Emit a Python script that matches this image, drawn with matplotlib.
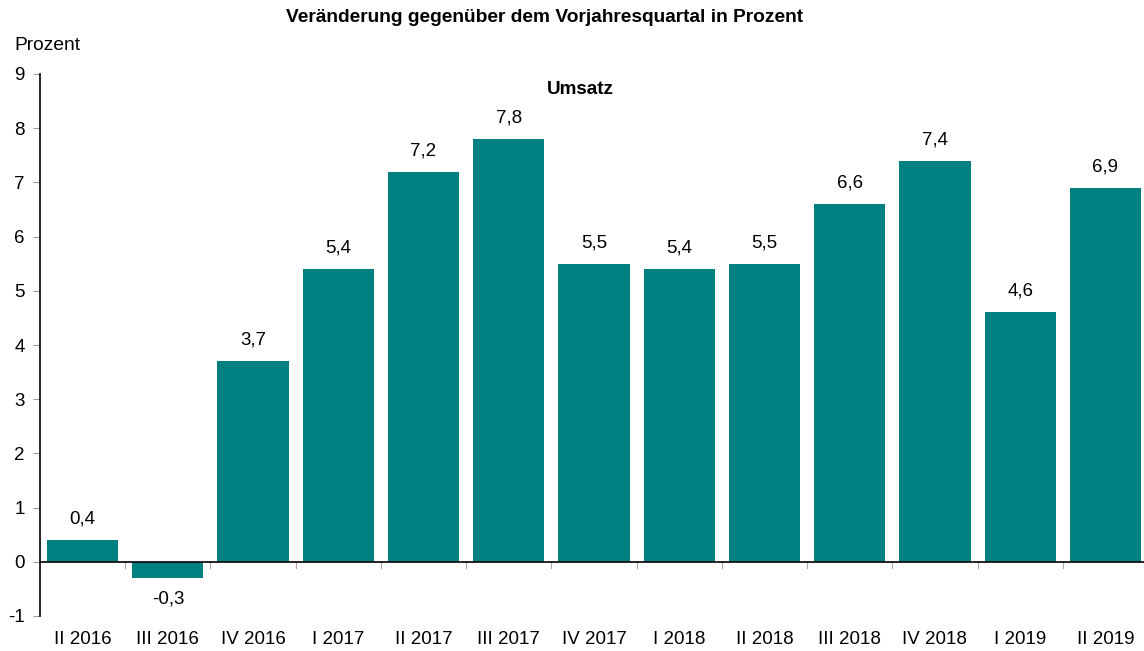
import matplotlib
matplotlib.use("Agg")
import matplotlib.pyplot as plt

quartale = ["II 2016", "III 2016", "IV 2016", "I 2017", "II 2017", "III 2017", "IV 2017",
            "I 2018", "II 2018", "III 2018", "IV 2018", "I 2019", "II 2019"]
umsatz = [0.4, -0.3, 3.7, 5.4, 7.2, 7.8, 5.5, 5.4, 5.5, 6.6, 7.4, 4.6, 6.9]
y_ticks = list(range(-1, 10))

plt.rcParams['font.family'] = ['Liberation Sans', 'DejaVu Sans']

fig = plt.figure(figsize=(11.44, 6.51), dpi=100)
ax = fig.add_axes([40 / 1144, 1 - 616 / 651, 1108 / 1144, 542 / 651])

farbe = "#008080"
fs = 13.5
x = list(range(len(quartale)))
ax.bar(x, umsatz, width=0.835, color=farbe, zorder=2)

for xi, v in zip(x, umsatz):
    txt = f"{v:.1f}".replace(".", ",")
    if v >= 0:
        ax.annotate(txt, (xi, v), xytext=(0, 9), textcoords="offset points",
                    ha="center", va="bottom", fontsize=fs)
    else:
        ax.annotate(txt, (xi, v), xytext=(0, -9), textcoords="offset points",
                    ha="center", va="top", fontsize=fs)

ax.set_xlim(-0.5, 12.5)
ax.set_ylim(-1, 9)
ax.set_yticks(y_ticks)
ax.set_yticklabels([str(t) for t in y_ticks], fontsize=fs)
ax.tick_params(axis="y", length=5, color="#999999", width=0.8, pad=6)

# Null-Linie und Kategorie-Ticks
ax.axhline(0, color="black", linewidth=1.2, zorder=3)
for b in range(1, len(quartale)):
    ax.plot([b - 0.5, b - 0.5], [0, -0.12], color="#aaaaaa", linewidth=0.8,
            clip_on=False, zorder=1)
ax.set_xticks(x)
ax.set_xticklabels(quartale, fontsize=fs)
ax.tick_params(axis="x", length=0, pad=11)

for s in ["top", "right", "bottom"]:
    ax.spines[s].set_visible(False)
ax.spines["left"].set_linewidth(1.2)

fig.text(545 / 1144, 1 - 18 / 651, "Veränderung gegenüber dem Vorjahresquartal in Prozent",
         ha="center", va="center", fontsize=13.8, fontweight="bold")
fig.text(14 / 1144, 1 - 46 / 651, "Prozent", ha="left", va="center", fontsize=fs + 0.3)
ax.text(580 / 1144, 1 - 90 / 651, "Umsatz", transform=fig.transFigure,
        ha="center", va="center", fontsize=13.6, fontweight="bold")

fig.savefig("out.png", dpi=100)
